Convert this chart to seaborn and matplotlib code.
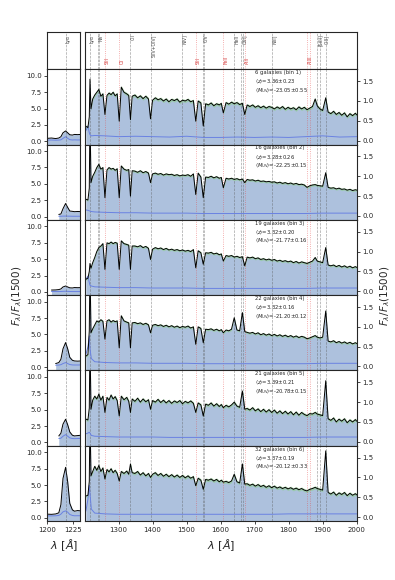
import numpy as np
import matplotlib
matplotlib.use("Agg")
import matplotlib.pyplot as plt
import seaborn as sns

sns.set_style("ticks")
plt.rcParams['font.family'] = ['DejaVu Sans']
plt.rcParams['mathtext.fontset'] = 'dejavusans'

# ---------------- data ----------------
wave = [1204, 1210, 1214, 1216, 1219, 1224, 1230,
        1236, 1242, 1248, 1254, 1260, 1266, 1272, 1278, 1284, 1290, 1296,
        1302, 1308, 1316, 1324, 1330, 1335, 1340,
        1348, 1356, 1364, 1372, 1380, 1388,
        1394, 1400,
        1408, 1416, 1424, 1432, 1440, 1448, 1456, 1464, 1472, 1480, 1488, 1496, 1504, 1512, 1520,
        1527, 1534, 1542, 1549, 1556,
        1564, 1572, 1580, 1588, 1596, 1602,
        1608,
        1616, 1624, 1632, 1640, 1648, 1656, 1664,
        1671,
        1678, 1686, 1694, 1702, 1710, 1718, 1726, 1734, 1742, 1750, 1758, 1766, 1774,
        1782, 1790, 1798, 1806, 1814, 1822, 1830, 1838, 1846, 1854, 1862, 1870, 1878,
        1884, 1892, 1900, 1909,
        1916, 1924, 1932, 1940, 1948, 1956, 1964, 1972, 1980, 1988, 1996, 2000]

flux_bin1 = [0.36, 0.33, 0.60, 1.55, 0.80, 1.05, 1.15,
             1.22, 1.29, 1.12, 1.18, 0.66, 1.14, 1.20, 1.16, 1.22, 1.13, 1.18,
             0.49, 1.35, 1.22, 1.18, 1.14, 0.53, 1.12,
             1.15, 1.08, 1.13, 1.06, 1.12, 1.05,
             0.55, 1.02,
             1.08, 1.03, 1.06, 1.00, 1.05, 0.98, 1.04, 1.01, 1.05, 0.97, 1.02, 1.00, 1.04, 0.98, 1.01,
             0.49, 1.00, 0.95, 0.37, 0.93,
             0.90, 0.95, 0.88, 0.93, 0.90, 0.94,
             0.70,
             0.96, 0.92, 0.97, 0.93, 0.96, 0.91, 0.94,
             0.66,
             0.90, 0.86, 0.90, 0.84, 0.88, 0.83, 0.87, 0.82, 0.86, 0.84, 0.80, 0.85, 0.81,
             0.86, 0.79, 0.84, 0.80, 0.83, 0.78, 0.85, 0.80, 0.84, 0.78, 0.82, 0.86, 1.05,
             0.88, 0.80, 0.76, 1.08,
             0.72, 0.68, 0.74, 0.66, 0.71, 0.64, 0.70, 0.60, 0.68, 0.63, 0.69, 0.65]

flux_bin2 = [0.42, 0.40, 0.70, 2.60, 0.84, 1.00, 1.10,
             1.22, 1.30, 1.18, 1.22, 0.46, 1.16, 1.22, 1.18, 1.20, 1.15, 1.19,
             0.46, 1.26, 1.18, 1.15, 1.17, 0.50, 1.14,
             1.13, 1.10, 1.14, 1.09, 1.12, 1.08,
             0.84, 1.06,
             1.08, 1.05, 1.07, 1.03, 1.06, 1.04, 1.05, 1.02, 1.04, 1.01, 1.03, 1.02, 1.04, 1.00, 1.06,
             0.54, 1.08, 0.98, 0.46, 0.98,
             0.97, 1.00, 0.96, 0.99, 0.95, 0.97,
             0.71,
             0.95, 0.93, 0.95, 0.92, 0.94, 0.91, 0.93,
             0.84,
             0.92, 0.90, 0.91, 0.88, 0.90, 0.87, 0.88, 0.86, 0.87, 0.85, 0.86, 0.83, 0.85,
             0.82, 0.84, 0.81, 0.83, 0.80, 0.82, 0.79, 0.80, 0.78, 0.72, 0.76, 0.78, 0.79,
             0.77, 0.76, 0.75, 1.09,
             0.72, 0.70, 0.71, 0.68, 0.70, 0.67, 0.68, 0.65, 0.67, 0.64, 0.66, 0.65]

flux_bin3 = [0.30, 0.33, 0.50, 0.70, 0.58, 0.72, 0.85,
             1.00, 1.10, 1.14, 1.20, 0.55, 1.22, 1.20, 1.24, 1.20, 1.23, 1.21,
             0.55, 1.27, 1.20, 1.18, 1.16, 0.55, 1.14,
             1.14, 1.12, 1.15, 1.10, 1.13, 1.08,
             0.80, 1.06,
             1.10, 1.07, 1.09, 1.05, 1.08, 1.04, 1.06, 1.03, 1.05, 1.02, 1.04, 1.01, 1.03, 1.00, 1.05,
             0.59, 1.02, 0.97, 0.68, 0.97,
             0.96, 0.98, 0.94, 0.96, 0.92, 0.94,
             0.76,
             0.90, 0.88, 0.90, 0.86, 0.88, 0.85, 0.87,
             0.64,
             0.86, 0.84, 0.86, 0.82, 0.84, 0.80, 0.82, 0.79, 0.81, 0.78, 0.80, 0.76, 0.78,
             0.75, 0.77, 0.74, 0.76, 0.72, 0.75, 0.71, 0.74, 0.72, 0.70, 0.73, 0.76, 0.85,
             0.76, 0.74, 0.72, 1.10,
             0.66, 0.64, 0.66, 0.62, 0.65, 0.61, 0.64, 0.60, 0.63, 0.59, 0.62, 0.60]

flux_bin4 = [0.26, 0.30, 0.90, 2.60, 0.85, 0.95, 1.05,
             1.15, 1.12, 1.18, 1.14, 0.69, 1.15, 1.18, 1.12, 1.16, 1.13, 1.15,
             0.47, 1.28, 1.15, 1.12, 1.10, 0.47, 1.10,
             1.11, 1.08, 1.10, 1.06, 1.09, 1.05,
             0.85, 1.04,
             1.06, 1.03, 1.05, 1.01, 1.04, 1.00, 1.03, 0.99, 1.02, 0.98, 1.01, 0.99, 1.02, 0.97, 1.00,
             0.56, 1.00, 0.96, 0.60, 0.94,
             0.93, 0.95, 0.91, 0.94, 0.90, 0.93,
             0.85,
             0.92, 0.90, 0.94, 1.23, 0.92, 0.90, 1.36,
             0.88,
             0.86, 0.84, 0.86, 0.82, 0.85, 0.80, 0.83, 0.79, 0.82, 0.78, 0.81, 0.77, 0.80,
             0.76, 0.79, 0.75, 0.78, 0.74, 0.77, 0.73, 0.76, 0.74, 0.70, 0.72, 0.75, 0.78,
             0.74, 0.72, 0.74, 1.40,
             0.64, 0.62, 0.65, 0.60, 0.63, 0.59, 0.62, 0.58, 0.61, 0.57, 0.60, 0.58]

flux_bin5 = [0.57, 0.55, 0.85, 2.60, 0.82, 1.05, 1.15,
             1.08, 1.20, 1.05, 1.15, 0.74, 1.12, 1.05, 1.18, 1.08, 1.14, 1.04,
             0.65, 1.15, 1.06, 1.12, 1.02, 0.74, 1.08,
             1.02, 1.10, 1.00, 1.08, 1.01, 1.06,
             0.82, 1.04,
             1.00, 1.07, 0.99, 1.05, 0.98, 1.04, 0.97, 1.03, 0.99, 1.04, 0.96, 1.02, 0.98, 1.03, 0.97,
             0.74, 0.98, 0.93, 0.65, 0.95,
             0.92, 0.98, 0.90, 0.96, 0.89, 0.94,
             0.86,
             0.92, 0.88, 0.93, 1.00, 0.90, 0.87, 1.28,
             0.82,
             0.84, 0.80, 0.86, 0.78, 0.83, 0.76, 0.82, 0.75, 0.81, 0.74, 0.80, 0.72, 0.78,
             0.71, 0.77, 0.70, 0.76, 0.68, 0.75, 0.67, 0.74, 0.69, 0.66, 0.71, 0.70, 0.74,
             0.70, 0.68, 0.66, 1.54,
             0.58, 0.54, 0.60, 0.50, 0.57, 0.52, 0.58, 0.48, 0.55, 0.50, 0.56, 0.52]

flux_bin6 = [0.53, 0.55, 0.90, 2.60, 1.04, 1.15, 1.28,
             1.18, 1.30, 1.15, 1.24, 0.96, 1.20, 1.14, 1.22, 1.12, 1.18, 1.10,
             0.91, 1.15, 1.10, 1.16, 1.08, 1.34, 1.12,
             1.10, 1.15, 1.06, 1.12, 1.04, 1.10,
             1.00, 1.08,
             1.12, 1.05, 1.10, 1.03, 1.08, 1.02, 1.07, 1.01, 1.06, 1.00, 1.05, 0.99, 1.04, 0.98, 1.02,
             0.79, 0.98, 0.93, 0.70, 0.95,
             0.93, 0.96, 0.91, 0.95, 0.89, 0.93,
             0.88,
             0.90, 0.87, 0.91, 1.08, 0.89, 0.86, 1.34,
             0.83,
             0.84, 0.80, 0.83, 0.78, 0.82, 0.77, 0.80, 0.75, 0.79, 0.74, 0.78, 0.73, 0.76,
             0.72, 0.75, 0.71, 0.74, 0.70, 0.73, 0.69, 0.72, 0.68, 0.66, 0.70, 0.72, 0.75,
             0.72, 0.70, 0.68, 1.67,
             0.62, 0.58, 0.63, 0.55, 0.61, 0.57, 0.62, 0.54, 0.60, 0.55, 0.59, 0.56]

err_wave = [1204, 1210, 1214, 1216, 1220, 1230, 1260, 1300, 1350, 1400, 1450,
            1500, 1550, 1600, 1650, 1700, 1750, 1800, 1850, 1900, 1950, 2000]
err_bin1 = [0.25, 0.37, 0.20, 0.15, 0.12, 0.13, 0.12, 0.10, 0.11, 0.10, 0.09,
            0.11, 0.08, 0.08, 0.09, 0.08, 0.09, 0.08, 0.10, 0.12, 0.09, 0.10]
err_bin2 = [0.15, 0.14, 0.13, 0.12, 0.11, 0.10, 0.09, 0.08, 0.08, 0.07, 0.07,
            0.07, 0.06, 0.06, 0.06, 0.06, 0.06, 0.06, 0.06, 0.07, 0.07, 0.07]
err_bin3 = [0.30, 0.38, 0.22, 0.15, 0.13, 0.11, 0.10, 0.09, 0.09, 0.08, 0.08,
            0.08, 0.07, 0.07, 0.07, 0.07, 0.07, 0.07, 0.07, 0.08, 0.08, 0.08]
err_bin4 = [0.30, 0.50, 0.77, 0.45, 0.20, 0.12, 0.10, 0.09, 0.09, 0.08, 0.08,
            0.08, 0.07, 0.07, 0.07, 0.07, 0.07, 0.07, 0.07, 0.08, 0.08, 0.08]
err_bin5 = [0.20, 0.22, 0.24, 0.22, 0.16, 0.14, 0.13, 0.12, 0.12, 0.12, 0.11,
            0.11, 0.11, 0.11, 0.11, 0.11, 0.11, 0.11, 0.11, 0.12, 0.12, 0.12]
err_bin6 = [0.15, 0.45, 0.80, 0.60, 0.20, 0.10, 0.08, 0.07, 0.07, 0.07, 0.07,
            0.07, 0.07, 0.07, 0.07, 0.07, 0.07, 0.08, 0.08, 0.08, 0.08, 0.08]

# half width of the thin green uncertainty band around each stack
band_halfwidth = [0.04, 0.03, 0.03, 0.03, 0.04, 0.04]

# left (Lya zoom) panel
nan = float('nan')
lya_wave = [1200, 1204, 1208, 1211, 1213, 1215, 1217.5, 1219.5, 1221.5, 1224, 1226, 1229, 1232]
lya_bin1 = [0.45, 0.50, 0.42, 0.50, 0.70, 1.30, 1.58, 1.30, 1.00, 0.95, 1.05, 1.02, 1.05]
lya_bin2 = [nan, nan, nan, 0.33, 0.40, 1.20, 2.00, 1.40, 0.85, 0.80, 0.75, 0.78, 0.76]
lya_bin3 = [nan, 0.28, 0.30, 0.35, 0.45, 0.75, 0.90, 0.75, 0.62, 0.60, 0.66, 0.64, 0.65]
lya_bin4 = [nan, nan, 0.55, 0.70, 1.20, 2.80, 3.76, 2.80, 1.50, 1.05, 0.95, 0.92, 0.95]
lya_bin5 = [nan, nan, nan, 1.00, 1.40, 2.80, 3.55, 2.70, 1.60, 1.10, 1.00, 1.05, 1.10]
lya_bin6 = [0.55, 0.52, 0.58, 0.75, 2.00, 6.00, 7.70, 5.50, 2.20, 1.20, 1.00, 1.10, 1.05]
lya_err1 = [0.18, 0.20, 0.17, 0.19, 0.22, 0.45, 0.70, 0.45, 0.25, 0.20, 0.22, 0.20, 0.21]
lya_err2 = [nan, nan, nan, 0.05, 0.05, 0.07, 0.08, 0.07, 0.06, 0.05, 0.05, 0.05, 0.05]
lya_err3 = [nan, 0.05, 0.05, 0.05, 0.06, 0.08, 0.10, 0.08, 0.06, 0.05, 0.05, 0.05, 0.05]
lya_err4 = [nan, nan, 0.30, 0.32, 0.38, 0.55, 0.70, 0.55, 0.40, 0.34, 0.33, 0.33, 0.34]
lya_err5 = [nan, nan, nan, 0.60, 0.65, 0.95, 1.20, 0.95, 0.70, 0.60, 0.58, 0.60, 0.62]
lya_err6 = [0.29, 0.28, 0.30, 0.35, 0.55, 0.90, 1.05, 0.85, 0.50, 0.35, 0.30, 0.31, 0.30]

n_gal = [6, 16, 19, 22, 21, 32]
z_mean = ['3.36', '3.28', '3.32', '3.32', '3.39', '3.37']
z_std = ['0.23', '0.26', '0.20', '0.16', '0.21', '0.19']
muv_mean = ['-23.05', '-22.25', '-21.77', '-21.20', '-20.78', '-20.12']
muv_std = ['0.55', '0.15', '0.16', '0.12', '0.15', '0.33']

# spectral features
gray_lines = [1215.7, 1238.8, 1242.8, 1334.5, 1396.8, 1486.5, 1548.2, 1550.8,
              1640.4, 1660.8, 1666.2, 1750.0, 1882.7, 1892.0, 1908.7]
red_lines = [1260.4, 1302.2, 1526.7, 1608.5, 1670.8, 1854.7, 1862.8]
em_labels = ['Lyα', 'NV', 'CII', 'SiIV+OIV]', 'NIV]', 'CIV', 'HeII', 'OIII]', 'NIII]', '[SiIII]', 'CIII]']
em_label_pos = [1215.7, 1240.0, 1334.5, 1396.8, 1486.5, 1549.0, 1640.4, 1663.0, 1750.0, 1885.0, 1903.0]
ism_labels = ['SiII', 'OI', 'SiII', 'FeII', 'AlII', 'AlIII']
ism_label_pos = [1260.4, 1302.2, 1526.7, 1608.5, 1670.8, 1858.0]

lya_line = 1217.5

fluxes = [flux_bin1, flux_bin2, flux_bin3, flux_bin4, flux_bin5, flux_bin6]
errs = [err_bin1, err_bin2, err_bin3, err_bin4, err_bin5, err_bin6]
lya_fluxes = [lya_bin1, lya_bin2, lya_bin3, lya_bin4, lya_bin5, lya_bin6]
lya_errs = [lya_err1, lya_err2, lya_err3, lya_err4, lya_err5, lya_err6]

# ---------------- styling ----------------
FILL = '#adc1dd'
ERRC = '#6a82e2'
GREEN = '#8fd08f'
GRAYL = (0.35, 0.35, 0.35, 0.55)
REDL = (0.9, 0.25, 0.25, 0.55)
TICKFS = 5

fig = plt.figure(figsize=(3.95, 5.8), dpi=100)
gs = fig.add_gridspec(7, 2, height_ratios=[0.495, 1, 1, 1, 1, 1, 1],
                      width_ratios=[33, 272.4], hspace=0, wspace=0.028,
                      left=0.1197, right=0.903, top=0.9448, bottom=0.1017)

# header panels
hl = fig.add_subplot(gs[0, 0])
hr = fig.add_subplot(gs[0, 1])
for h in (hl, hr):
    h.set_xticks([]); h.set_yticks([])
    h.set_ylim(0, 1)
hl.set_xlim(1200, 1231.5)
hr.set_xlim(1200, 2000)
hl.axvline(lya_line, color=GRAYL, ls='--', lw=0.5)
hl.text(lya_line, 0.93, 'Lyα', rotation=90, ha='left', va='top', fontsize=3.3, color='0.3')
for wl in gray_lines:
    hr.axvline(wl, color=GRAYL, ls='--', lw=0.5)
for wl in red_lines:
    hr.axvline(wl, color=REDL, ls=':', lw=0.6)
for lab, wl in zip(em_labels, em_label_pos):
    hr.text(wl, 0.93, lab, rotation=90, ha='left', va='top', fontsize=3.3, color='0.3')
for lab, wl in zip(ism_labels, ism_label_pos):
    hr.text(wl, 0.15, lab, rotation=90, ha='left', va='bottom', fontsize=3.3, color='#d43a3a')

for i in range(6):
    axl = fig.add_subplot(gs[i + 1, 0])
    axr = fig.add_subplot(gs[i + 1, 1])

    # ---- left: Lya zoom ----
    lw_arr = np.array(lya_wave, float)
    lf = np.array(lya_fluxes[i], float)
    le = np.array(lya_errs[i], float)
    ok = ~np.isnan(lf)
    axl.fill_between(lw_arr[ok], -1, lf[ok], color=FILL, lw=0)
    sns.lineplot(x=lw_arr[ok], y=le[ok], ax=axl, color=ERRC, lw=0.7)
    sns.lineplot(x=lw_arr[ok], y=lf[ok], ax=axl, color='k', lw=0.7)
    axl.axvline(lya_line, color=GRAYL, ls='--', lw=0.5)
    axl.set_xlim(1200, 1231.5)
    axl.set_ylim(-0.5, 11)
    axl.set_yticks([0, 2.5, 5, 7.5, 10])
    axl.set_yticklabels(['0.0', '2.5', '5.0', '7.5', '10.0'])
    axl.set_xticks([1200, 1225])
    axl.tick_params(labelsize=TICKFS, length=2.5, width=0.6, pad=1.5)
    if i < 5:
        axl.tick_params(labelbottom=False, bottom=False)

    # ---- right: full spectrum ----
    w = np.array(wave, float)
    f = np.array(fluxes[i], float)
    axr.fill_between(w, -1, f, color=FILL, lw=0)
    axr.fill_between(w, f - band_halfwidth[i], f + band_halfwidth[i], color=GREEN, alpha=0.6, lw=0)
    for gl in gray_lines:
        axr.axvline(gl, color=GRAYL, ls='--', lw=0.5)
    for rl in red_lines:
        axr.axvline(rl, color=REDL, ls=':', lw=0.6)
    sns.lineplot(x=err_wave, y=errs[i], ax=axr, color=ERRC, lw=0.7)
    sns.lineplot(x=w, y=f, ax=axr, color='k', lw=0.7)
    axr.set_xlim(1200, 2000)
    axr.set_ylim(-0.1, 1.8)
    axr.yaxis.tick_right()
    axr.set_yticks([0, 0.5, 1.0, 1.5])
    axr.set_xticks([1300, 1400, 1500, 1600, 1700, 1800, 1900, 2000])
    axr.tick_params(labelsize=TICKFS, length=2.5, width=0.6, pad=1.5)
    if i < 5:
        axr.tick_params(labelbottom=False, bottom=False)
    for ax in (axl, axr):
        ax.set_xlabel(''); ax.set_ylabel('')

    axr.text(0.627, 0.955, f'{n_gal[i]} galaxies (bin {i + 1})', transform=axr.transAxes,
             fontsize=3.8, va='center', ha='left')
    axr.text(0.627, 0.84, r'$\langle z\rangle$=' + f'{z_mean[i]}±{z_std[i]}',
             transform=axr.transAxes, fontsize=3.8, va='center', ha='left')
    axr.text(0.627, 0.72, r'$\langle M_{\rm UV}\rangle$=' + f'{muv_mean[i]}±{muv_std[i]}',
             transform=axr.transAxes, fontsize=3.8, va='center', ha='left')

    if i == 5:
        axl.set_xlabel(r'$\lambda\ [\AA]$', fontsize=8, labelpad=3)
        axr.set_xlabel(r'$\lambda\ [\AA]$', fontsize=8, labelpad=3)

fig.text(0.043, 0.49, r'$F_\lambda/F_\lambda(1500)$', rotation=90, ha='center', va='center', fontsize=7.5)
fig.text(0.975, 0.49, r'$F_\lambda/F_\lambda(1500)$', rotation=90, ha='center', va='center', fontsize=7.5)

fig.savefig('out.png', dpi=100)
